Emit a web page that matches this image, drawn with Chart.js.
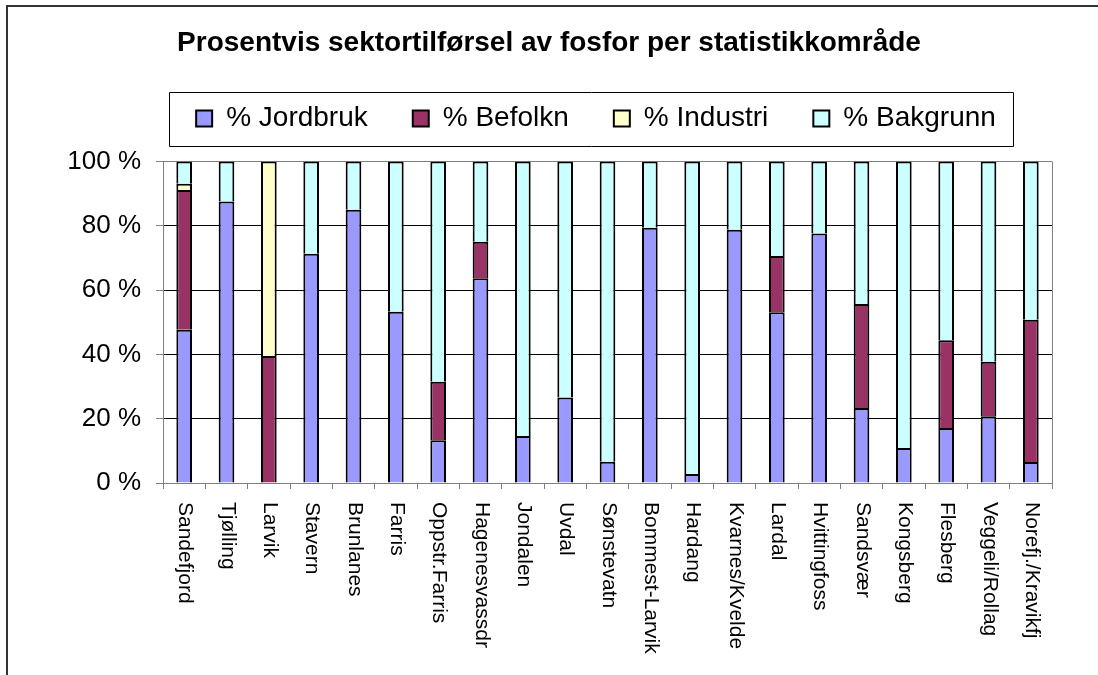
<!DOCTYPE html>
<html>
<head>
<meta charset="utf-8">
<script src="https://cdn.jsdelivr.net/npm/chart.js@4/dist/chart.umd.min.js"></script>
<style>
html, body { margin: 0; padding: 0; background: #fff; }
#wrap { width: 1098px; height: 675px; }
</style>
</head>
<body>
<div id="wrap"><canvas id="chart"></canvas></div>
<script>
var tittel = 'Prosentvis sektortilførsel av fosfor per statistikkområde';
var omrader = ['Sandefjord', 'Tjølling', 'Larvik', 'Stavern', 'Brunlanes', 'Farris', 'Oppstr.Farris',
	'Hagenesvassdr', 'Jondalen', 'Uvdal', 'Sønstevatn', 'Bommest-Larvik', 'Hardang', 'Kvarnes/Kvelde',
	'Lardal', 'Hvittingfoss', 'Sandsvær', 'Kongsberg', 'Flesberg', 'Veggeli/Rollag', 'Norefj./Kravikfj'];
var serier = ['% Jordbruk', '% Befolkn', '% Industri', '% Bakgrunn'];
var jordbruk = [47.7, 87.6, 0, 71.3, 85.0, 53.3, 13.3, 63.7, 14.6, 26.6, 6.6, 79.4, 2.8, 78.8, 53.1, 77.6, 23.3, 10.9, 17.1, 20.8, 6.5];
var befolkn = [43.5, 0, 39.5, 0, 0, 0, 18.2, 11.4, 0, 0, 0, 0, 0, 0, 17.5, 0, 32.4, 0, 27.3, 16.9, 44.3];
var industri = [1.9, 0, 60.5, 0, 0, 0, 0, 0, 0, 0, 0, 0, 0, 0, 0, 0, 0, 0, 0, 0, 0];
var bakgrunn = [6.9, 12.4, 0, 28.7, 15.0, 46.7, 68.5, 24.9, 85.4, 73.4, 93.4, 20.6, 97.2, 21.2, 29.4, 22.4, 44.3, 89.1, 55.6, 62.3, 49.2];
var farger = ['#9999FF', '#993366', '#FFFFCC', '#CCFFFF'];
var yTicks = [0, 20, 40, 60, 80, 100];

var FONT = '"Liberation Sans", Arial, sans-serif';

function lagSerie(navn, data, farge) {
	return {
		label : navn,
		data : data,
		backgroundColor : farge,
		borderColor : '#000',
		borderWidth : 2,
		borderSkipped : 'start',
		barPercentage : 0.37,
		categoryPercentage : 1.0
	};
}

// ramme rundt diagrammet, høyre kant på plottet, boks rundt forklaringen og loddrette etiketter
var tegnPlugin = {
	id : 'tegn',
	afterLayout : function(chart) {
		chart.titleBlock.left += 23;
		chart.titleBlock.right += 23;
		chart.legend.left += 70;
		chart.legend.right += 70;
	},
	beforeDraw : function(chart) {
		var ctx = chart.ctx;
		ctx.save();
		ctx.fillStyle = '#fff';
		ctx.fillRect(0, 0, chart.width, chart.height);
		ctx.strokeStyle = '#333';
		ctx.lineWidth = 2;
		ctx.beginPath();
		ctx.moveTo(7, chart.height);
		ctx.lineTo(7, 6);
		ctx.lineTo(chart.width, 6);
		ctx.stroke();
		ctx.restore();
	},
	afterDraw : function(chart) {
		var ctx = chart.ctx, a = chart.chartArea, xs = chart.scales.x;
		var lg = chart.legend;
		ctx.save();
		ctx.strokeStyle = '#808080';
		ctx.lineWidth = 1;
		ctx.beginPath();
		ctx.moveTo(Math.round(a.right) + 0.5, a.top);
		ctx.lineTo(Math.round(a.right) + 0.5, a.bottom);
		ctx.stroke();

		// forklaringsboks
		var pad = lg.options.labels.padding;
		var sum = 0;
		lg.legendHitBoxes.forEach(function(h) { sum += h.width; });
		var gw = sum + pad * (lg.legendHitBoxes.length - 1);
		var midt = (lg.left + lg.right) / 2;
		var cy = lg.top + pad + 14;
		ctx.strokeStyle = '#000';
		ctx.beginPath();
		ctx.rect(Math.round(midt - gw / 2 - 27) + 0.5, Math.round(cy - 27) + 0.5, Math.round(gw + 44), 54);
		ctx.stroke();

		// kategorietiketter, lest ovenfra og ned
		ctx.fillStyle = '#000';
		ctx.font = '21px ' + FONT;
		ctx.textAlign = 'left';
		ctx.textBaseline = 'middle';
		omrader.forEach(function(lab, i) {
			var x = xs.getPixelForValue(i);
			ctx.save();
			ctx.translate(x + 1, xs.top + 19);
			ctx.rotate(Math.PI / 2);
			ctx.fillText(lab, 0, 0);
			ctx.restore();
		});
		ctx.restore();
	}
};

var config = {
	type : 'bar',
	data : {
		labels : omrader,
		datasets : [ lagSerie(serier[0], jordbruk, farger[0]),
				lagSerie(serier[1], befolkn, farger[1]),
				lagSerie(serier[2], industri, farger[2]),
				lagSerie(serier[3], bakgrunn, farger[3]) ]
	},
	options : {
		responsive : true,
		maintainAspectRatio : false,
		animation : false,
		layout : { padding : { left : 0, right : 46, top : 0, bottom : 0 } },
		plugins : {
			title : {
				display : true,
				text : tittel,
				color : '#000',
				font : { family : FONT, size : 28, weight : 'bold' },
				padding : { top : 26, bottom : 0 }
			},
			legend : {
				display : true,
				position : 'top',
				labels : {
					color : '#000',
					font : { family : FONT, size : 28 },
					boxWidth : 16,
					boxHeight : 16,
					padding : 45
				}
			},
			subtitle : {
				display : true,
				text : '',
				weight : 500,
				font : { size : 1, lineHeight : 1 },
				padding : { top : 0, bottom : 18 }
			},
			tooltip : { enabled : false }
		},
		scales : {
			x : {
				stacked : true,
				afterFit : function(s) { s.height = 192; },
				grid : { offset : true, drawOnChartArea : false, tickLength : 6, color : '#808080' },
				border : { color : '#808080' },
				ticks : { color : 'rgba(0,0,0,0)', autoSkip : false, maxRotation : 90, minRotation : 90,
					font : { family : FONT, size : 21 } }
			},
			y : {
				stacked : true,
				min : 0,
				max : 100,
				afterFit : function(s) { s.width = 163; },
				afterBuildTicks : function(s) { s.ticks = yTicks.map(function(v) { return { value : v }; }); },
				grid : {
					color : function(c) { return c.tick && c.tick.value === 100 ? '#808080' : '#000'; },
					tickColor : '#808080',
					tickLength : 7
				},
				border : { color : '#808080' },
				ticks : {
					color : '#000',
					padding : 15,
					font : { family : FONT, size : 26 },
					callback : function(v) { return v + ' %'; }
				}
			}
		}
	},
	plugins : [ tegnPlugin ]
};

var ctx = document.getElementById('chart').getContext('2d');
window.myBar = new Chart(ctx, config);
</script>
</body>
</html>
